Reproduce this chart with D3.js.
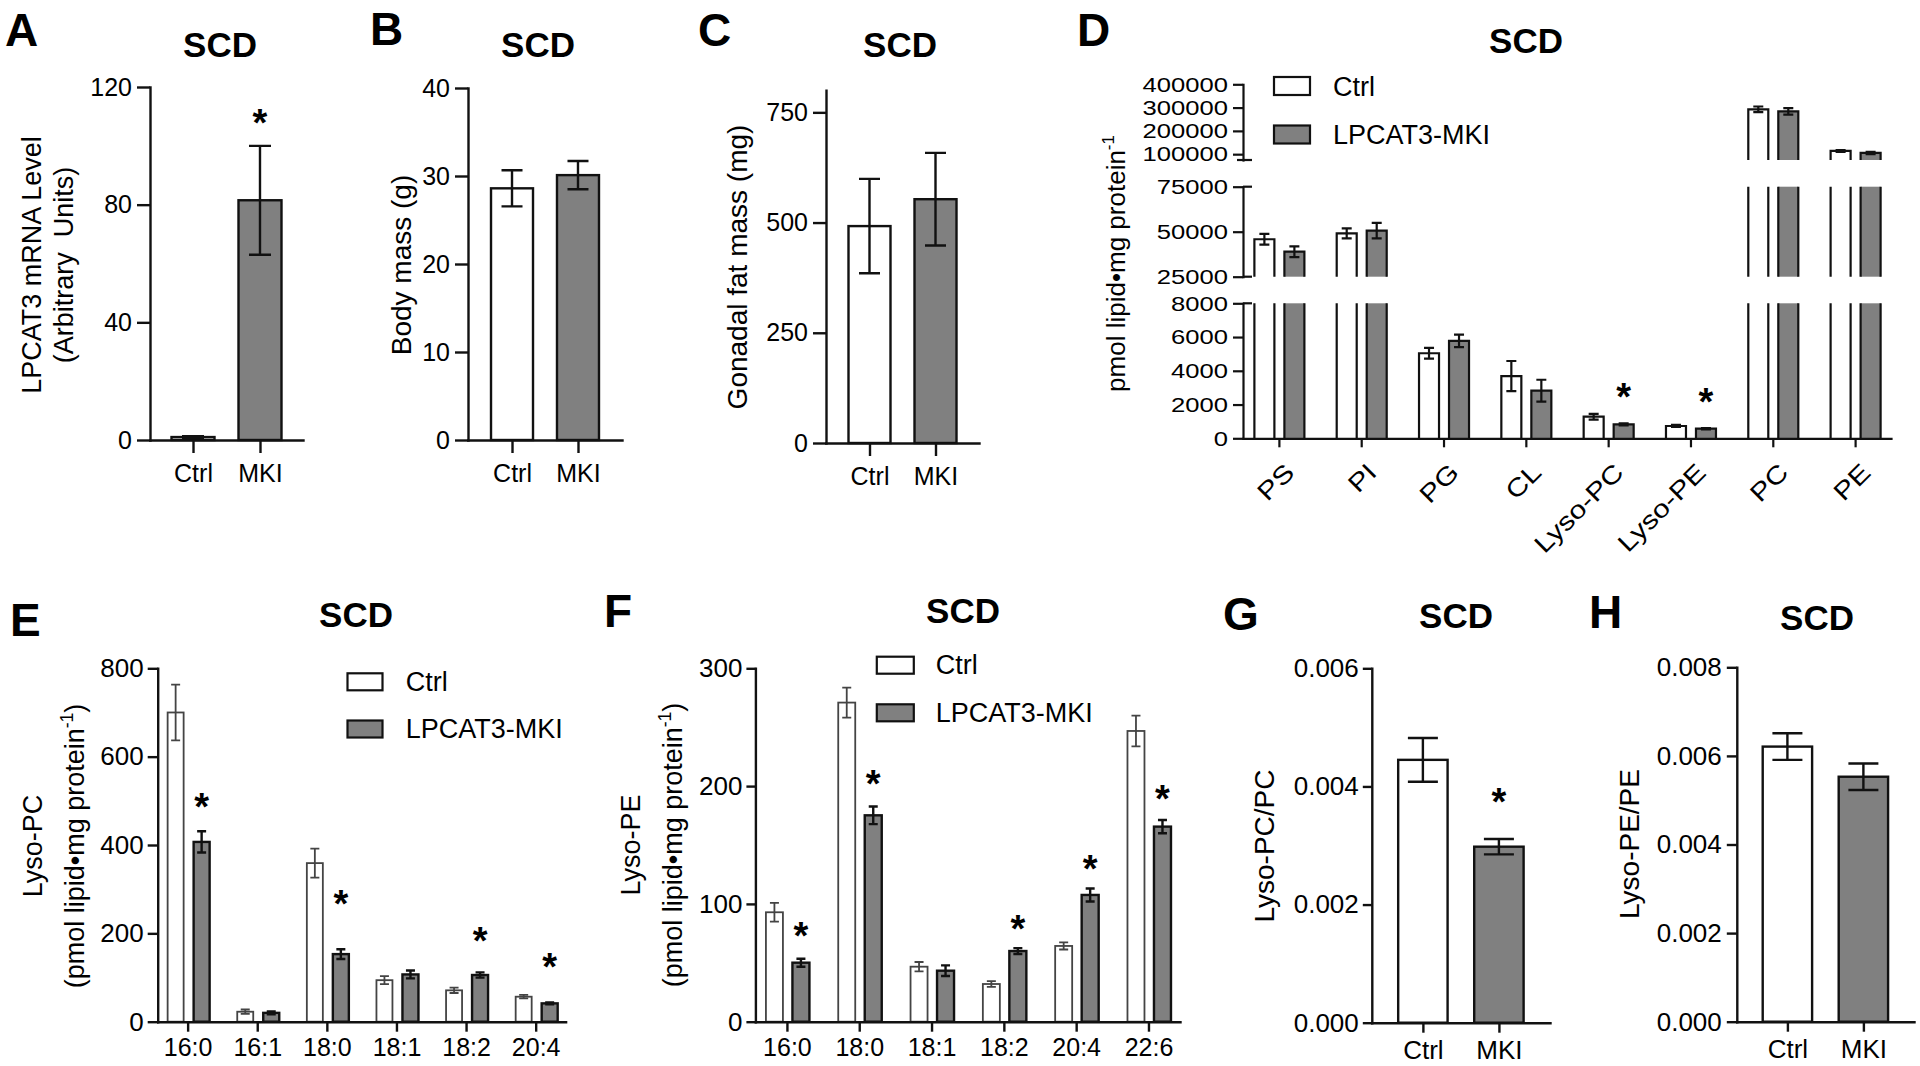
<!DOCTYPE html>
<html>
<head>
<meta charset="utf-8">
<script src="https://cdn.jsdelivr.net/npm/d3@7"></script>
<style>
  html, body { margin: 0; padding: 0; background: #fff; }
  svg text { font-family: "Liberation Sans", Arial, Helvetica, sans-serif; fill: #000; }
</style>
</head>
<body>
<svg id="fig" width="1920" height="1066"></svg>
<script>
// ---- data ----
const groups = ['Ctrl', 'MKI'];
const legendLabels = ['Ctrl', 'LPCAT3-MKI'];

// A: LPCAT3 mRNA
const mrnaMean = [1, 81.5];
const mrnaSem = [0.3, 18.5];
const mrnaStar = [null, 110.8];

// B: body mass (g)
const bodyMean = [28.6, 30.1];
const bodySem = [2.05, 1.6];

// C: gonadal fat mass (mg)
const fatMean = [492, 553];
const fatSem = [107, 105];

// D: lipid classes (pmol lipid / mg protein)
const lipidClasses = ['PS', 'PI', 'PG', 'CL', 'Lyso-PC', 'Lyso-PE', 'PC', 'PE'];
const lipidCtrl = [45800, 49100, 5040, 3690, 1280, 730, 292700, 114000];
const lipidCtrlSem = [3000, 2800, 320, 890, 170, 60, 12000, 4000];
const lipidMki = [38900, 50550, 5770, 2820, 830, 570, 284000, 105500];
const lipidMkiSem = [3000, 4300, 370, 650, 60, 40, 14000, 5000];
const lipidStar = [null, null, null, null, 2980, 2680, null, null];

// E: Lyso-PC species
const lpcSpecies = ['16:0', '16:1', '18:0', '18:1', '18:2', '20:4'];
const lpcCtrl = [700, 22.6, 359, 94, 71, 56.6];
const lpcCtrlSem = [63, 5, 33, 9, 6, 4];
const lpcMki = [407, 20, 153, 107, 105.7, 41.5];
const lpcMkiSem = [24, 3, 11, 9, 6, 2];
const lpcStar = [507, null, 286, null, 202, 145];

// F: Lyso-PE species
const lpeSpecies = ['16:0', '18:0', '18:1', '18:2', '20:4', '22:6'];
const lpeCtrl = [92.9, 270.9, 46.7, 32, 64.3, 246.8];
const lpeCtrlSem = [8, 12.7, 4, 2.5, 3, 13];
const lpeMki = [50.1, 175.2, 43.3, 60, 107.6, 165.6];
const lpeMkiSem = [3.4, 7.5, 4.5, 2.5, 5.5, 5.6];
const lpeStar = [80.7, 209.5, null, 86.4, 137.4, 196.9];

// G, H: ratios
const lpcRatioMean = [0.00445, 0.00298];
const lpcRatioSem = [0.00037, 0.00013];
const lpcRatioStar = [null, 0.00389];
const lpeRatioMean = [0.00621, 0.00553];
const lpeRatioSem = [0.0003, 0.0003];

// ---- drawing ----
const svg = d3.select('#fig');
const GRAY = '#808080';
const INK = '#111';

function styleAxis(a, fs, sw) {
  a.select('.domain').attr('stroke', INK).attr('stroke-width', sw || 2.4).attr('stroke-linecap', 'square');
  a.selectAll('.tick line').attr('stroke', INK).attr('stroke-width', sw || 2.4);
  a.selectAll('.tick text').attr('font-size', fs).attr('fill', '#000');
}

function errBar(g, cx, capW, yLo, yHi, stroke, sw) {
  g.append('path')
    .attr('d', `M${cx},${yLo}V${yHi}M${cx - capW / 2},${yLo}H${cx + capW / 2}M${cx - capW / 2},${yHi}H${cx + capW / 2}`)
    .attr('fill', 'none').attr('stroke', stroke).attr('stroke-width', sw);
}

function star(g, cx, cy) {
  g.append('text').attr('x', cx).attr('y', cy + 22)
    .attr('text-anchor', 'middle').attr('font-size', 38).attr('font-weight', 'bold').text('*');
}

function headings(g, letter, title) {
  g.append('text').attr('x', letter[1]).attr('y', letter[2])
    .attr('font-size', 46).attr('font-weight', 'bold').text(letter[0]);
  g.append('text').attr('x', title[0]).attr('y', title[1]).attr('text-anchor', 'middle')
    .attr('font-size', 35).attr('font-weight', 'bold').text('SCD');
}

// rotated y label; a line is a string or a list of parts, {sup:'..'} for superscript
function yLabel(g, lines, cy, fs) {
  lines.forEach(l => {
    const t = g.append('text')
      .attr('transform', `translate(${l.bx},${cy}) rotate(-90)`)
      .attr('text-anchor', 'middle').attr('font-size', fs)
      .style('white-space', 'pre');
    const parts = Array.isArray(l.t) ? l.t : [l.t];
    let shift = 0;
    parts.forEach(p => {
      if (typeof p === 'string') {
        t.append('tspan').attr('dy', shift ? -shift : 0).text(p);
        shift = 0;
      } else {
        shift = -fs * 0.42;
        t.append('tspan').attr('dy', shift).attr('font-size', fs * 0.65).text(p.sup);
      }
    });
  });
}

function legend(g, L) {
  legendLabels.forEach((lab, i) => {
    const y = i ? L.y2 : L.y1;
    g.append('rect').attr('x', L.boxX).attr('y', y).attr('width', L.boxW).attr('height', L.boxH)
      .attr('fill', i ? GRAY : '#fff').attr('stroke', INK).attr('stroke-width', 2.2);
    g.append('text').attr('x', L.textX).attr('y', y + L.boxH + 0.5)
      .attr('font-size', 27).text(lab);
  });
}

// two-bar panels (A, B, C, G, H)
function simplePanel(p) {
  const g = svg.append('g');
  const y = d3.scaleLinear().domain(p.domain).range([p.yBase, p.yTop]);
  const x = d3.scalePoint().domain(groups).range([p.x0, p.x1]).padding(p.pad);

  groups.forEach((k, i) => {
    const cx = x(k);
    g.append('rect').attr('x', cx - p.barW / 2).attr('y', y(p.mean[i]))
      .attr('width', p.barW).attr('height', y(0) - y(p.mean[i]))
      .attr('fill', i ? GRAY : '#fff').attr('stroke', INK).attr('stroke-width', 2.4);
    errBar(g, cx, p.capW, y(p.mean[i] - p.sem[i]), y(p.mean[i] + p.sem[i]), INK, 2.4);
    if (p.stars && p.stars[i] != null) star(g, cx, y(p.stars[i]));
  });

  const ya = g.append('g').attr('transform', `translate(${p.x0},0)`)
    .call(d3.axisLeft(y).tickValues(p.ticks).tickFormat(p.fmt)
      .tickSize(p.tickSize).tickPadding(p.tickPad).tickSizeOuter(0));
  styleAxis(ya, p.tickFs);

  const xa = g.append('g').attr('transform', `translate(0,${p.yBase})`)
    .call(d3.axisBottom(x).tickSize(p.xTickSize).tickPadding(p.xTickPad).tickSizeOuter(0));
  styleAxis(xa, p.tickFs);

  headings(g, p.letter, p.title);
  yLabel(g, p.ylabel, p.cy, p.ylFs);
}

// grouped panels (E, F)
function groupedPanel(p) {
  const g = svg.append('g');
  const y = d3.scaleLinear().domain(p.domain).range([p.yBase, p.yTop]);
  const x = d3.scalePoint().domain(p.cats).range([p.x0, p.x1]).padding(p.pad);

  p.cats.forEach((c, i) => {
    const cc = x(c) + p.offC, cm = x(c) + p.offM;
    g.append('rect').attr('x', cc - p.barW / 2).attr('y', y(p.ctrl[i]))
      .attr('width', p.barW).attr('height', y(0) - y(p.ctrl[i]))
      .attr('fill', '#fff').attr('stroke', '#444').attr('stroke-width', 1.8);
    errBar(g, cc, p.capW, y(p.ctrl[i] - p.ctrlSem[i]), y(p.ctrl[i] + p.ctrlSem[i]), '#444', 1.8);
    g.append('rect').attr('x', cm - p.barW / 2).attr('y', y(p.mki[i]))
      .attr('width', p.barW).attr('height', y(0) - y(p.mki[i]))
      .attr('fill', GRAY).attr('stroke', INK).attr('stroke-width', 2.4);
    errBar(g, cm, p.capW, y(p.mki[i] - p.mkiSem[i]), y(p.mki[i] + p.mkiSem[i]), INK, 2.4);
    if (p.stars[i] != null) star(g, cm, y(p.stars[i]));
  });

  const ya = g.append('g').attr('transform', `translate(${p.x0},0)`)
    .call(d3.axisLeft(y).tickValues(p.ticks).tickFormat(d3.format('d'))
      .tickSize(p.tickSize).tickPadding(p.tickPad).tickSizeOuter(0));
  styleAxis(ya, 26);

  const xa = g.append('g').attr('transform', `translate(0,${p.yBase})`)
    .call(d3.axisBottom(x).tickSize(10).tickPadding(6.5).tickSizeOuter(0));
  styleAxis(xa, 25);

  legend(g, p.legend);
  headings(g, p.letter, p.title);
  yLabel(g, p.ylabel, p.cy, 27);
}

// broken-axis panel (D)
function lipidPanel() {
  const g = svg.append('g');
  const axX = 1243;
  const xD = d3.scalePoint().domain(lipidClasses).range([axX, 1891]).padding(0.436);
  const segs = [
    { dom: [0, 8000], rng: [438.3, 303.3], ticks: [0, 2000, 4000, 6000, 8000] },
    { dom: [25000, 75000], rng: [276.7, 186.7], ticks: [25000, 50000, 75000] },
    { dom: [75000, 400000], rng: [160, 84.3], ticks: [100000, 200000, 300000, 400000] }
  ];
  segs.forEach(s => { s.y = d3.scaleLinear().domain(s.dom).range(s.rng); });

  const series = [
    { mean: lipidCtrl, sem: lipidCtrlSem, fill: '#fff', off: -14.5 },
    { mean: lipidMki, sem: lipidMkiSem, fill: GRAY, off: 15.5 }
  ];
  const w = 20;
  series.forEach(sr => lipidClasses.forEach((c, i) => {
    const v = sr.mean[i], cx = xD(c) + sr.off;
    segs.forEach(s => {
      if (s.dom[0] > 0 && v <= s.dom[0]) return;
      const closed = v <= s.dom[1];
      const y0 = s.y(s.dom[0]), y1 = s.y(Math.min(v, s.dom[1]));
      g.append('rect').attr('x', cx - w / 2).attr('y', y1).attr('width', w).attr('height', y0 - y1)
        .attr('fill', sr.fill);
      const d = closed
        ? `M${cx - w / 2},${y0}V${y1}H${cx + w / 2}V${y0}`
        : `M${cx - w / 2},${y0}V${y1}M${cx + w / 2},${y1}V${y0}`;
      g.append('path').attr('d', d).attr('fill', 'none').attr('stroke', INK).attr('stroke-width', 2.2);
      if (closed) errBar(g, cx, 10, s.y(v - sr.sem[i]), s.y(v + sr.sem[i]), INK, 2.2);
    });
    if (sr.fill === GRAY && lipidStar[i] != null) star(g, cx, segs[0].y(lipidStar[i]));
  }));

  // segmented y axis, labels drawn wide like the original
  const sx = 1.22;
  segs.forEach(s => {
    const a = g.append('g').attr('transform', `translate(${axX},0)`)
      .call(d3.axisLeft(s.y).tickValues(s.ticks).tickFormat(d3.format('d'))
        .tickSize(10).tickPadding(5).tickSizeOuter(0));
    styleAxis(a, 21, 2.2);
    a.selectAll('.tick text').attr('x', -15 / sx).attr('transform', `scale(${sx},1)`);
  });
  // break caps
  [303.3, 276.7, 186.7].forEach(yy => {
    g.append('line').attr('x1', axX).attr('x2', axX + 9).attr('y1', yy).attr('y2', yy)
      .attr('stroke', INK).attr('stroke-width', 2.2);
  });
  g.append('line').attr('x1', axX - 6).attr('x2', axX + 9).attr('y1', 160).attr('y2', 160)
    .attr('stroke', INK).attr('stroke-width', 2.2);

  const xa = g.append('g').attr('transform', 'translate(0,438.3)')
    .call(d3.axisBottom(xD).tickSize(9).tickFormat('').tickSizeOuter(0));
  styleAxis(xa, 25, 2.2);

  lipidClasses.forEach(c => {
    g.append('text')
      .attr('transform', `translate(${xD(c) + 17},474) rotate(-45) scale(1.2,1)`)
      .attr('text-anchor', 'end').attr('font-size', 25).text(c);
  });

  legend(g, { boxX: 1274, boxW: 36, boxH: 18, y1: 77, y2: 125.5, textX: 1333 });
  headings(g, ['D', 1077, 46], [1526, 53]);
  yLabel(g, [{ t: ['pmol lipid\u2022mg protein', { sup: '-1' }], bx: 1125 }], 263.5, 26);
}

// ---- panels ----
simplePanel({
  letter: ['A', 5, 46], title: [220, 57],
  x0: 150, x1: 303, pad: 0.642, yBase: 440, yTop: 87,
  domain: [0, 120], ticks: [0, 40, 80, 120], fmt: d3.format('d'),
  mean: mrnaMean, sem: mrnaSem, stars: mrnaStar, barW: 43, capW: 22,
  tickFs: 25, tickSize: 13, tickPad: 5, xTickSize: 13, xTickPad: 11,
  ylabel: [{ t: 'LPCAT3 mRNA Level', bx: 41 }, { t: '(Arbitrary  Units)', bx: 73 }], cy: 265, ylFs: 27
});

simplePanel({
  letter: ['B', 370, 45], title: [538, 57],
  x0: 468, x1: 622, pad: 0.667, yBase: 440, yTop: 88,
  domain: [0, 40], ticks: [0, 10, 20, 30, 40], fmt: d3.format('d'),
  mean: bodyMean, sem: bodySem, barW: 42, capW: 21,
  tickFs: 25, tickSize: 13, tickPad: 5, xTickSize: 13, xTickPad: 11,
  ylabel: [{ t: 'Body mass (g)', bx: 411 }], cy: 265, ylFs: 28
});

simplePanel({
  letter: ['C', 698, 46], title: [900, 57],
  x0: 826, x1: 979, pad: 0.659, yBase: 443, yTop: 90.3,
  domain: [0, 800], ticks: [0, 250, 500, 750], fmt: d3.format('d'),
  mean: fatMean, sem: fatSem, barW: 42, capW: 21,
  tickFs: 25, tickSize: 13, tickPad: 5, xTickSize: 13, xTickPad: 11,
  ylabel: [{ t: 'Gonadal fat mass (mg)', bx: 747 }], cy: 267, ylFs: 28
});

lipidPanel();

const lpLine2 = ['(pmol lipid\u2022mg protein', { sup: '-1' }, ')'];

groupedPanel({
  letter: ['E', 10, 636], title: [356, 627],
  x0: 157.7, x1: 565.6, pad: 0.43, yBase: 1021.7, yTop: 668.3,
  domain: [0, 800], ticks: [0, 200, 400, 600, 800],
  cats: lpcSpecies, ctrl: lpcCtrl, ctrlSem: lpcCtrlSem, mki: lpcMki, mkiSem: lpcMkiSem, stars: lpcStar,
  barW: 16, capW: 9, offC: -12, offM: 14, tickSize: 10, tickPad: 4,
  legend: { boxX: 347.5, boxW: 35, boxH: 17, y1: 673.3, y2: 720.5, textX: 405.7 },
  ylabel: [{ t: 'Lyso-PC', bx: 42 }, { t: lpLine2, bx: 84 }], cy: 846
});

groupedPanel({
  letter: ['F', 604, 627], title: [963, 623],
  x0: 755.4, x1: 1180, pad: 0.436, yBase: 1021.7, yTop: 668.3,
  domain: [0, 300], ticks: [0, 100, 200, 300],
  cats: lpeSpecies, ctrl: lpeCtrl, ctrlSem: lpeCtrlSem, mki: lpeMki, mkiSem: lpeMkiSem, stars: lpeStar,
  barW: 17, capW: 9, offC: -12.5, offM: 14, tickSize: 9, tickPad: 4,
  legend: { boxX: 876.8, boxW: 37, boxH: 17, y1: 656.7, y2: 704.3, textX: 935.7 },
  ylabel: [{ t: 'Lyso-PE', bx: 640 }, { t: lpLine2, bx: 682 }], cy: 845
});

simplePanel({
  letter: ['G', 1223, 630], title: [1456, 628],
  x0: 1371.8, x1: 1550, pad: 0.672, yBase: 1022.7, yTop: 668.3,
  domain: [0, 0.006], ticks: [0, 0.002, 0.004, 0.006], fmt: d3.format('.3f'),
  mean: lpcRatioMean, sem: lpcRatioSem, stars: lpcRatioStar, barW: 49.4, capW: 30,
  tickFs: 26, tickSize: 9, tickPad: 4, xTickSize: 10, xTickPad: 7.5,
  ylabel: [{ t: 'Lyso-PC/PC', bx: 1274 }], cy: 846, ylFs: 28
});

simplePanel({
  letter: ['H', 1589, 628], title: [1817, 630],
  x0: 1736.8, x1: 1914, pad: 0.666, yBase: 1021.7, yTop: 667.3,
  domain: [0, 0.008], ticks: [0, 0.002, 0.004, 0.006, 0.008], fmt: d3.format('.3f'),
  mean: lpeRatioMean, sem: lpeRatioSem, barW: 49.4, capW: 30,
  tickFs: 26, tickSize: 10, tickPad: 5, xTickSize: 10, xTickPad: 7.5,
  ylabel: [{ t: 'Lyso-PE/PE', bx: 1639 }], cy: 844, ylFs: 28
});
</script>
</body>
</html>
